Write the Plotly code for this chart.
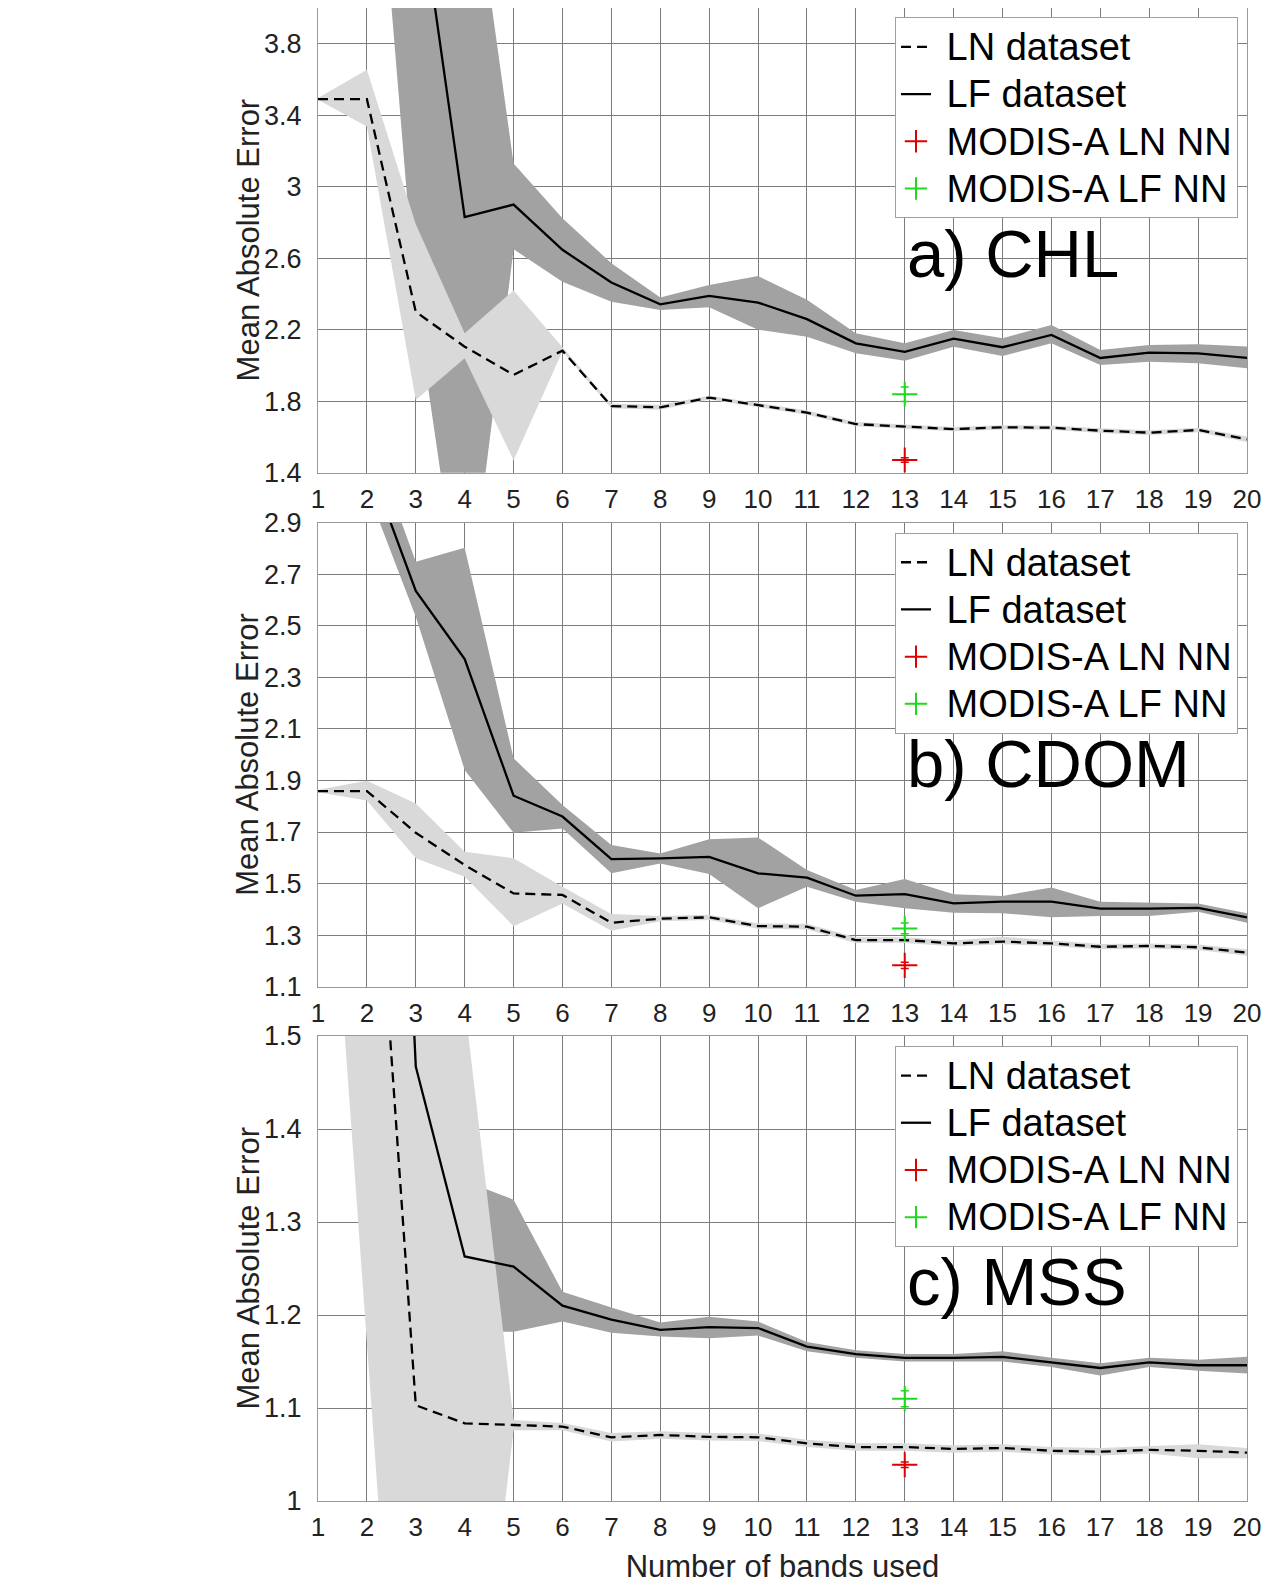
import plotly.graph_objects as go

# ---------------- data ----------------
bands = list(range(1, 21))
modis_band = 13

# a) CHL
chl_ln = [3.49, 3.49, 2.30, 2.105, 1.947, 2.083, 1.773, 1.766, 1.820, 1.779,
          1.736, 1.672, 1.659, 1.644, 1.654, 1.652, 1.635, 1.624, 1.639, 1.587]
chl_ln_lo = [3.487, 3.337, 1.807, 2.04, 1.47, 2.08, 1.760, 1.752, 1.810, 1.768,
             1.724, 1.660, 1.647, 1.632, 1.642, 1.640, 1.622, 1.611, 1.626, 1.572]
chl_ln_hi = [3.497, 3.655, 2.79, 2.18, 2.42, 2.105, 1.786, 1.780, 1.830, 1.790,
             1.748, 1.684, 1.671, 1.656, 1.666, 1.664, 1.648, 1.637, 1.652, 1.602]
chl_lf = [11.5, 8.0, 4.76, 2.83, 2.90, 2.647, 2.464, 2.342, 2.389, 2.352,
          2.259, 2.124, 2.076, 2.150, 2.102, 2.171, 2.042, 2.072, 2.068, 2.042]
chl_lf_lo = [9.0, 5.7, 2.35, 0.47, 2.65, 2.469, 2.357, 2.31, 2.326, 2.20,
             2.16, 2.068, 2.027, 2.105, 2.053, 2.124, 2.003, 2.021, 2.012, 1.984]
chl_lf_hi = [14.0, 10.3, 7.17, 5.1, 3.13, 2.824, 2.572, 2.38, 2.45, 2.50,
             2.367, 2.18, 2.124, 2.199, 2.152, 2.227, 2.087, 2.115, 2.119, 2.106]
chl_modis_ln, chl_modis_ln_err = 1.471, 0.012
chl_modis_lf, chl_modis_lf_err = 1.839, 0.04

# b) CDOM
cdom_ln = [1.859, 1.859, 1.697, 1.572, 1.462, 1.456, 1.348, 1.364, 1.369, 1.335,
           1.333, 1.281, 1.281, 1.268, 1.275, 1.268, 1.255, 1.258, 1.253, 1.232]
cdom_ln_lo = [1.854, 1.822, 1.598, 1.527, 1.335, 1.423, 1.317, 1.354, 1.359, 1.325,
              1.322, 1.270, 1.270, 1.257, 1.265, 1.258, 1.245, 1.248, 1.242, 1.220]
cdom_ln_hi = [1.864, 1.899, 1.811, 1.624, 1.598, 1.488, 1.382, 1.374, 1.379, 1.345,
              1.344, 1.292, 1.292, 1.279, 1.294, 1.279, 1.266, 1.268, 1.264, 1.244]
cdom_lf = [3.6, 3.15, 2.635, 2.371, 1.841, 1.760, 1.595, 1.598, 1.604, 1.540,
           1.523, 1.453, 1.459, 1.423, 1.430, 1.430, 1.403, 1.403, 1.406, 1.369]
cdom_lf_lo = [3.45, 3.03, 2.535, 1.941, 1.697, 1.714, 1.540, 1.578, 1.537, 1.404,
              1.488, 1.430, 1.404, 1.387, 1.385, 1.369, 1.374, 1.374, 1.391, 1.348]
cdom_lf_hi = [3.75, 3.27, 2.749, 2.803, 1.986, 1.805, 1.650, 1.617, 1.672, 1.679,
              1.553, 1.475, 1.518, 1.459, 1.452, 1.485, 1.430, 1.426, 1.423, 1.385]
cdom_modis_ln, cdom_modis_ln_err = 1.183, 0.012
cdom_modis_lf, cdom_modis_lf_err = 1.326, 0.021

# c) MSS
mss_ln = [2.3, 1.856, 1.103, 1.0835, 1.0817, 1.080, 1.0685, 1.071, 1.069, 1.0685,
          1.062, 1.058, 1.058, 1.056, 1.057, 1.054, 1.053, 1.055, 1.054, 1.052]
mss_ln_lo = [1.90, 1.17, 0.44, 0.633, 1.076, 1.076, 1.064, 1.067, 1.065, 1.0645,
             1.058, 1.054, 1.054, 1.052, 1.053, 1.050, 1.049, 1.051, 1.046, 1.046]
mss_ln_hi = [2.70, 2.54, 1.77, 1.534, 1.087, 1.084, 1.073, 1.075, 1.073, 1.0725,
             1.066, 1.062, 1.062, 1.060, 1.061, 1.058, 1.057, 1.059, 1.061, 1.057]
mss_lf = [3.5, 2.6, 1.467, 1.263, 1.252, 1.210, 1.195, 1.184, 1.187, 1.186,
          1.166, 1.158, 1.154, 1.154, 1.155, 1.149, 1.143, 1.149, 1.146, 1.146]
mss_lf_lo = [3.2, 2.3, 1.387, 1.182, 1.182, 1.193, 1.181, 1.177, 1.175, 1.178,
             1.161, 1.154, 1.150, 1.150, 1.150, 1.144, 1.135, 1.144, 1.140, 1.137]
mss_lf_hi = [3.8, 2.9, 1.547, 1.344, 1.324, 1.225, 1.208, 1.192, 1.198, 1.193,
             1.171, 1.162, 1.158, 1.158, 1.161, 1.154, 1.148, 1.154, 1.152, 1.155]
mss_modis_ln, mss_modis_ln_err = 1.039, 0.003
mss_modis_lf, mss_modis_lf_err = 1.110, 0.0086

panel_labels = ["a) CHL", "b) CDOM", "c) MSS"]
label_y = [2.625, 1.964, 1.236]
y_ranges = [[1.4, 4.0], [1.1, 2.9], [1.0, 1.5]]
y_tick0 = [1.4, 1.1, 1.0]
y_dtick = [0.4, 0.2, 0.1]
legend_names = ["LN dataset", "LF dataset", "MODIS-A LN NN", "MODIS-A LF NN"]
x_title = "Number of bands used"
y_title = "Mean Absolute Error"

# ---------------- style ----------------
FONT = "Liberation Sans, Arial, sans-serif"
DARK = "#a2a2a2"
LIGHT = "#d9d9d9"
GRID = "#7c7c7c"
AXIS = "#999999"
RED = "#dd0000"
GREEN = "#1fd81f"
TXT = "#222222"

panels = [
    dict(ln=chl_ln, ln_lo=chl_ln_lo, ln_hi=chl_ln_hi, lf=chl_lf, lf_lo=chl_lf_lo, lf_hi=chl_lf_hi,
         m_ln=chl_modis_ln, m_ln_e=chl_modis_ln_err, m_lf=chl_modis_lf, m_lf_e=chl_modis_lf_err),
    dict(ln=cdom_ln, ln_lo=cdom_ln_lo, ln_hi=cdom_ln_hi, lf=cdom_lf, lf_lo=cdom_lf_lo, lf_hi=cdom_lf_hi,
         m_ln=cdom_modis_ln, m_ln_e=cdom_modis_ln_err, m_lf=cdom_modis_lf, m_lf_e=cdom_modis_lf_err),
    dict(ln=mss_ln, ln_lo=mss_ln_lo, ln_hi=mss_ln_hi, lf=mss_lf, lf_lo=mss_lf_lo, lf_hi=mss_lf_hi,
         m_ln=mss_modis_ln, m_ln_e=mss_modis_ln_err, m_lf=mss_modis_lf, m_lf_e=mss_modis_lf_err),
]

y_domains = [[0.68875, 1.0], [0.34447, 0.65526], [0.0, 0.31145]]
legend_y = [0.9938, 0.6486, 0.3048]
LEG_TXT = '<span style="font-size:38px">&nbsp;{}</span>'

fig = go.Figure()

for i, p in enumerate(panels):
    sfx = "" if i == 0 else str(i + 1)
    xa, ya = "x" + sfx, "y" + sfx
    leg = "legend" + sfx
    # LF spread (dark)
    fig.add_trace(go.Scatter(x=bands + bands[::-1], y=p["lf_hi"] + p["lf_lo"][::-1],
                             fill="toself", fillcolor=DARK, mode="lines", line=dict(width=0),
                             hoverinfo="skip", showlegend=False, xaxis=xa, yaxis=ya))
    # LN spread (light)
    fig.add_trace(go.Scatter(x=bands + bands[::-1], y=p["ln_hi"] + p["ln_lo"][::-1],
                             fill="toself", fillcolor=LIGHT, mode="lines", line=dict(width=0),
                             hoverinfo="skip", showlegend=False, xaxis=xa, yaxis=ya))
    # LF mean line
    fig.add_trace(go.Scatter(x=bands, y=p["lf"], mode="lines", name=LEG_TXT.format(legend_names[1]),
                             line=dict(color="black", width=2.3), legend=leg, legendrank=2,
                             xaxis=xa, yaxis=ya))
    # LN mean line
    fig.add_trace(go.Scatter(x=bands, y=p["ln"], mode="lines", name=LEG_TXT.format(legend_names[0]),
                             line=dict(color="black", width=2.3, dash="10px,6px"), legend=leg,
                             legendrank=1, xaxis=xa, yaxis=ya))
    # MODIS-A points
    fig.add_trace(go.Scatter(x=[modis_band], y=[p["m_ln"]], mode="markers",
                             name=LEG_TXT.format(legend_names[2]),
                             marker=dict(symbol="cross-thin", size=18, color=RED,
                                         line=dict(color=RED, width=2)),
                             error_y=dict(type="data", array=[p["m_ln_e"]], visible=True,
                                          color=RED, thickness=1.5, width=4),
                             legend=leg, legendrank=3, xaxis=xa, yaxis=ya))
    fig.add_trace(go.Scatter(x=[modis_band], y=[p["m_lf"]], mode="markers",
                             name=LEG_TXT.format(legend_names[3]),
                             marker=dict(symbol="cross-thin", size=18, color=GREEN,
                                         line=dict(color=GREEN, width=2)),
                             error_y=dict(type="data", array=[p["m_lf_e"]], visible=True,
                                          color=GREEN, thickness=1.5, width=4),
                             legend=leg, legendrank=4, xaxis=xa, yaxis=ya))
    # panel label
    fig.add_annotation(x=13, y=label_y[i], xref=xa, yref=ya, text=panel_labels[i],
                       showarrow=False, xanchor="left", yanchor="middle",
                       font=dict(size=67, family=FONT, color="black"))
    # y-axis title
    fig.add_annotation(x=-0.0753, y=sum(y_domains[i]) / 2, xref="paper", yref="paper",
                       text=y_title, textangle=-90, showarrow=False,
                       xanchor="center", yanchor="middle",
                       font=dict(size=31, family=FONT, color=TXT))

layout = dict(
    width=1272, height=1584,
    margin=dict(l=318, r=25, t=8, b=83, autoexpand=False),
    paper_bgcolor="white", plot_bgcolor="white",
    font=dict(family=FONT, color=TXT),
    showlegend=True,
)

for i in range(3):
    sfx = "" if i == 0 else str(i + 1)
    layout["xaxis" + sfx] = dict(
        domain=[0, 1], anchor="y" + sfx, range=[1, 20], tick0=1, dtick=1,
        showgrid=True, gridcolor=GRID, gridwidth=1, zeroline=False, automargin=False,
        showline=True, linecolor=AXIS, linewidth=1, mirror=(i != 0),
        ticks="", ticklabelstandoff=3, tickfont=dict(size=26, family=FONT, color=TXT),
        title=dict(text=x_title if i == 2 else "", font=dict(size=31, family=FONT, color=TXT),
                   standoff=15),
    )
    layout["yaxis" + sfx] = dict(
        domain=y_domains[i], anchor="x" + sfx, range=y_ranges[i],
        tick0=y_tick0[i], dtick=y_dtick[i], automargin=False,
        showgrid=True, gridcolor=GRID, gridwidth=1, zeroline=False,
        showline=True, linecolor=AXIS, linewidth=1, mirror=True,
        ticks="", ticklabelstandoff=10, tickfont=dict(size=27, family=FONT, color=TXT),
    )
    layout["legend" + sfx] = dict(
        x=0.9903, y=legend_y[i], xanchor="right", yanchor="top",
        xref="paper", yref="paper",
        bgcolor="white", bordercolor="#a0a0a0", borderwidth=1,
        font=dict(size=34, family=FONT, color="black"),
        tracegroupgap=0, itemwidth=30,
    )

fig.update_layout(**layout)

fig.write_html("out.html", config={"displayModeBar": False},
               post_script="document.body.style.margin='0';")
